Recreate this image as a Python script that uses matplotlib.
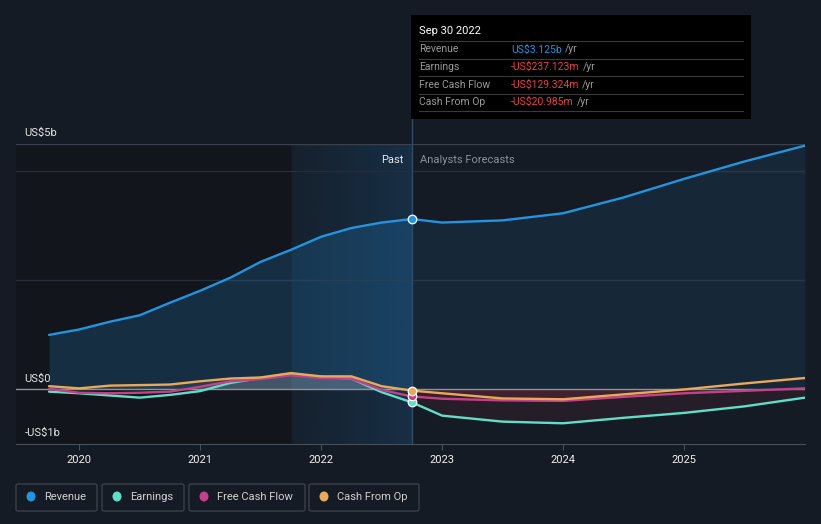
import numpy as np
import matplotlib.pyplot as plt
from matplotlib.patches import Rectangle, FancyBboxPatch, Ellipse
from matplotlib.lines import Line2D

plt.rcParams['font.family'] = ['Roboto', 'DejaVu Sans']

# years as decimals (Sep 30 = .75)
past_years = [2019.75, 2020.0, 2020.25, 2020.5, 2020.75, 2021.0, 2021.25,
              2021.5, 2021.75, 2022.0, 2022.25, 2022.5, 2022.75]
fc_years = [2022.75, 2023.0, 2023.5, 2024.0, 2024.5, 2025.0, 2025.5, 2026.0]

# values in US$ billions
revenue_past = [1.00, 1.10, 1.24, 1.36, 1.59, 1.81, 2.05, 2.34, 2.56, 2.80, 2.96, 3.06, 3.125]
earnings_past = [-0.04, -0.07, -0.11, -0.15, -0.10, -0.03, 0.12, 0.21, 0.29, 0.23, 0.20, -0.05, -0.237]
fcf_past = [0.01, -0.06, -0.07, -0.06, -0.04, 0.05, 0.15, 0.19, 0.26, 0.21, 0.20, -0.01, -0.129]
cfo_past = [0.06, 0.02, 0.07, 0.08, 0.09, 0.15, 0.20, 0.22, 0.30, 0.24, 0.24, 0.06, -0.021]

revenue_fc = [3.125, 3.06, 3.10, 3.23, 3.52, 3.86, 4.18, 4.47]
earnings_fc = [-0.237, -0.48, -0.59, -0.62, -0.52, -0.43, -0.31, -0.15]
fcf_fc = [-0.129, -0.17, -0.20, -0.21, -0.135, -0.07, -0.025, 0.02]
cfo_fc = [-0.021, -0.07, -0.165, -0.18, -0.09, 0.0, 0.11, 0.21]

series_names = ['Revenue', 'Earnings', 'Free Cash Flow', 'Cash From Op']
series_colors = ['#2394df', '#5ee0c8', '#c4418a', '#e8aa5a']

tick_years = [2020, 2021, 2022, 2023, 2024, 2025]

tooltip_date = 'Sep 30 2022'
tooltip_values = ['US$3.125b', '-US$237.123m', '-US$129.324m', '-US$20.985m']

W, H = 821, 524
BG = '#151b24'


def fx(x):
    return x / W


def fy(y):
    return 1 - y / H


def main():
    fig = plt.figure(figsize=(W / 100, H / 100), dpi=100, facecolor=BG)
    ax = fig.add_axes([fx(16), fy(444), (805 - 16) / W, 300 / H])
    ax.set_facecolor(BG)
    ax.set_xlim(2019.477, 2026.0)
    ax.set_ylim(-1.0, 4.5)

    # darker old past + highlighted last year
    ax.axvspan(2019.477, 2021.75, color='#12151c', zorder=0)
    grad = np.zeros((2, 200, 4))
    grad[..., :3] = np.array([27, 74, 115]) / 255
    grad[..., 3] = np.linspace(0.12, 0.42, 200)
    ax.imshow(grad, extent=[2021.75, 2022.75, -1.0, 4.5], aspect='auto', zorder=0.5,
              interpolation='bilinear')

    # grid lines
    for g in [2, 4]:
        ax.axhline(g, color='#262d38', lw=1, zorder=1)
    ax.axhline(4.5, color='#3a414c', lw=1, zorder=1)

    # fills
    ax.fill_between(past_years, revenue_past, 0, color='#2394df', alpha=0.2, lw=0, zorder=1)
    ax.fill_between(fc_years, revenue_fc, 0, color='#2394df', alpha=0.1, lw=0, zorder=1)
    for vals in [earnings_past, fcf_past, cfo_past]:
        v = np.array(vals)
        ax.fill_between(past_years, np.maximum(v, 0), 0, color='#ffffff', alpha=0.07, lw=0, zorder=1.5)
    for vals in [earnings_fc, fcf_fc, cfo_fc]:
        v = np.array(vals)
        ax.fill_between(fc_years, np.minimum(v, 0), 0, color='#d03a4a', alpha=0.09, lw=0, zorder=1.5)

    ax.axhline(0, color='#8e939b', lw=1, zorder=2)

    # lines
    pasts = [revenue_past, earnings_past, fcf_past, cfo_past]
    fcs = [revenue_fc, earnings_fc, fcf_fc, cfo_fc]
    for i in [1, 2, 3, 0]:
        ax.plot(past_years, pasts[i], color=series_colors[i], lw=1.7, zorder=3 + i * 0.1,
                solid_capstyle='round', solid_joinstyle='round')
        ax.plot(fc_years, fcs[i], color=series_colors[i], lw=1.7, zorder=3 + i * 0.1,
                solid_capstyle='round', solid_joinstyle='round')
    for i in [1, 2, 3, 0]:
        ax.scatter([2022.75], [pasts[i][-1]], s=38, color=series_colors[i], edgecolor='white',
                   linewidth=0.9, zorder=5)

    # past / forecast divider
    ax.plot([2022.75, 2022.75], [-1.0, 4.96], color='#2c4c68', lw=1, zorder=2, clip_on=False)
    ax.annotate('Past', xy=(2022.75, 4.5), xytext=(-6, -8), textcoords='offset points',
                ha='right', va='top', color='#e6e6e6', fontsize=8)
    ax.annotate('Analysts Forecasts', xy=(2022.75, 4.5), xytext=(6, -8), textcoords='offset points',
                ha='left', va='top', color='#8a9099', fontsize=8)

    # y labels
    for val, lab in [(4.5, 'US$5b'), (0, 'US$0'), (-1.0, '-US$1b')]:
        ax.annotate(lab, xy=(0, val), xycoords=('axes fraction', 'data'), xytext=(6, 4),
                    textcoords='offset points', ha='left', va='bottom', color='#e6e6e6', fontsize=8)

    for s in ['top', 'right', 'left']:
        ax.spines[s].set_visible(False)
    ax.spines['bottom'].set_color('#4a505a')
    ax.set_yticks([])
    ax.set_xticks(tick_years)
    ax.set_xticklabels([str(y) for y in tick_years])
    ax.tick_params(axis='x', colors='#4a505a', length=4, labelcolor='#f0f0f0', labelsize=8, pad=4)

    # tooltip
    fig.patches.append(Rectangle((fx(411), fy(119)), 340 / W, 104 / H, transform=fig.transFigure,
                                 facecolor='#000000', edgecolor='none', zorder=10))
    fig.text(fx(419), fy(31), tooltip_date, color='#ffffff', fontsize=8, va='center', zorder=11)
    for yy in [41, 58.5, 76, 93.5, 111]:
        fig.lines.append(Line2D([fx(419), fx(743)], [fy(yy), fy(yy)], transform=fig.transFigure,
                                color='#3a3a3a', lw=0.8, zorder=11))
    row_y = [49.5, 67, 84.5, 102]
    for i in range(4):
        fig.text(fx(419), fy(row_y[i]), series_names[i], color='#9a9a9a', fontsize=7.5,
                 va='center', zorder=11)
        vcol = '#2394df' if i == 0 else '#e8423f'
        t = fig.text(fx(511), fy(row_y[i]), tooltip_values[i], color=vcol, fontsize=7.5,
                     va='center', zorder=11)
        fig.canvas.draw()
        bb = t.get_window_extent()
        fig.text((bb.x1 + 3) / W, fy(row_y[i]), '/yr', color='#9a9a9a', fontsize=7.5,
                 va='center', zorder=11)

    # legend
    boxes = [(16, 97), (102, 184), (189, 305), (309, 419)]
    for i, (x0, x1) in enumerate(boxes):
        fig.patches.append(FancyBboxPatch((fx(x0), fy(511)), (x1 - x0) / W, 27 / H,
                                          boxstyle='round,pad=0,rounding_size=0.003',
                                          transform=fig.transFigure, facecolor='none',
                                          edgecolor='#3a404a', lw=1))
        fig.patches.append(Ellipse((fx(x0 + 15), fy(496.5)), 9 / W, 10 / H, transform=fig.transFigure,
                                   facecolor=series_colors[i], edgecolor='none'))
        fig.text(fx(x0 + 28), fy(496.5), series_names[i], color='#d0d0d0', fontsize=8,
                 va='center', ha='left')

    fig.savefig('out.png', dpi=100, facecolor=BG)


if __name__ == '__main__':
    main()
